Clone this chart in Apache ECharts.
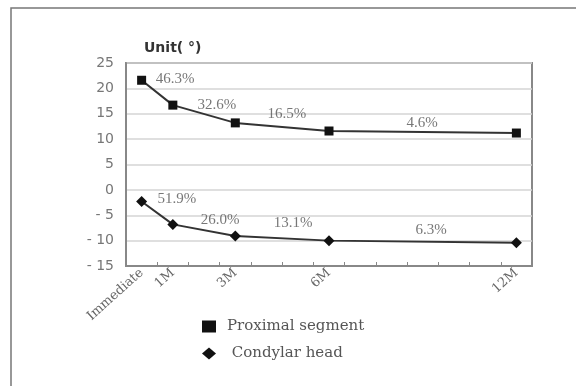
<!DOCTYPE html>
<html><head><meta charset="utf-8">
<script src="https://cdn.jsdelivr.net/npm/echarts@6/dist/echarts.min.js"></script>
<style>html,body{margin:0;padding:0;background:#fff}#c{width:576px;height:386px}</style>
</head><body><div id="c"></div>
<script>
// Months 0..12 shown as categories; only some are labelled
var categories = ['Immediate','1M','','3M','','','6M','','','','','','12M'];
var proximal = [21.6, 16.7, null, 13.2, null, null, 11.6, null, null, null, null, null, 11.2];
var condylar = [-2.3, -6.8, null, -9.1, null, null, -10.0, null, null, null, null, null, -10.4];
var yTicks = {min: -15, max: 25, interval: 5};
// percentage annotations: [month position, value, text]
var proxPctX = [1.07, 2.41, 4.65, 8.98];
var proxPctY = [21.8, 16.7, 15.0, 13.2];
var proxPctText = ['46.3%', '32.6%', '16.5%', '4.6%'];
var condPctX = [1.13, 2.51, 4.85, 9.27];
var condPctY = [-1.8, -5.9, -6.5, -7.9];
var condPctText = ['51.9%', '26.0%', '13.1%', '6.3%'];

function pctData(xs, ys, ts){ return xs.map(function(x,i){ return {value:[x, ys[i]], name: ts[i]}; }); }

var chart = echarts.init(document.getElementById('c'), null, {renderer:'canvas'});
var serif = '"DejaVu Serif",serif';
var lserif = '"Liberation Serif",serif';
var sans = '"DejaVu Sans",sans-serif';
chart.setOption({
  animation: false,
  backgroundColor: '#fff',
  graphic: [{type:'rect', shape:{x:11, y:8, width:620, height:420}, style:{fill:'none', stroke:'#777', lineWidth:1.5}, silent:true}],
  title: {text:'Unit( °)', left:139, top:36, textStyle:{fontFamily:sans, fontWeight:'bold', fontSize:14, color:'#333'}},
  grid: {left:126, top:63, right:44, bottom:120, show:true, borderColor:'#888', borderWidth:2, backgroundColor:'transparent'},
  legend: {
    orient:'vertical', left:197, top:314, itemGap:12, itemWidth:14, itemHeight:12,
    textStyle:{fontFamily:serif, fontSize:15, color:'#555', padding:[0,0,0,6]},
    data:[{name:'Proximal segment', icon:'rect'}, {name:'Condylar head', icon:'diamond'}],
    formatter:function(n){ return n === 'Condylar head' ? ' ' + n : n; }
  },
  xAxis: [{
    type:'category', data:categories, boundaryGap:true,
    axisLine:{onZero:false, lineStyle:{color:'#888', width:2}},
    axisTick:{show:true, inside:true, interval:0, length:4, lineStyle:{color:'#888'}},
    axisLabel:{interval:0, rotate:42, fontFamily:serif, fontSize:13, color:'#666', margin:5},
    splitLine:{show:false}
  },{
    type:'value', min:-0.5, max:12.5, show:false
  }],
  yAxis: {
    type:'value', min:yTicks.min, max:yTicks.max, interval:yTicks.interval,
    axisLine:{show:true, onZero:false, lineStyle:{color:'#888', width:2}},
    axisTick:{show:false},
    axisLabel:{fontFamily:sans, fontSize:14, color:'#777', margin:12,
      formatter:function(v){ return v < 0 ? '- ' + (-v) : String(v); }},
    splitLine:{lineStyle:{color:'#d4d4d4', width:1.5}}
  },
  series: [
    {name:'Proximal segment', type:'line', data:proximal, connectNulls:true, symbol:'rect', symbolSize:9,
     itemStyle:{color:'#111'}, lineStyle:{color:'#333', width:2}},
    {name:'Condylar head', type:'line', data:condylar, connectNulls:true, symbol:'diamond', symbolSize:11,
     itemStyle:{color:'#111'}, lineStyle:{color:'#333', width:2}},
    {type:'scatter', xAxisIndex:1, data:pctData(proxPctX, proxPctY, proxPctText), symbolSize:0,
     label:{show:true, position:'inside', formatter:'{b}', fontFamily:lserif, fontSize:15, color:'#555'}, silent:true},
    {type:'scatter', xAxisIndex:1, data:pctData(condPctX, condPctY, condPctText), symbolSize:0,
     label:{show:true, position:'inside', formatter:'{b}', fontFamily:lserif, fontSize:15, color:'#555'}, silent:true}
  ]
});
</script></body></html>
